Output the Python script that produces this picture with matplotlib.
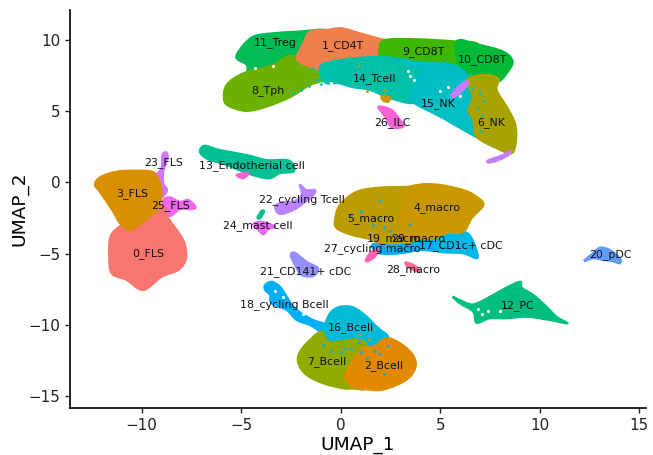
#!/usr/bin/env python3
import matplotlib
matplotlib.use('Agg')
import matplotlib.pyplot as plt
from matplotlib.patches import PathPatch
from matplotlib.path import Path

# cluster outlines in UMAP coordinates
c0_fls = [(-11.59, -3.92), (-11.3, -3.3), (-10.6, -2.6), (-9.6, -1.6), (-8.9, -1.7), (-8.66, -2.51),
          (-7.91, -4.04), (-7.77, -5.32), (-8.16, -6.14), (-9.0, -6.61), (-9.92, -7.54), (-10.75, -6.84),
          (-11.51, -6.37), (-11.63, -5.21)]
c1_cd4t = [(-1.54, 10.58), (-0.70, 10.70), (0.05, 10.82), (0.97, 10.47), (2.31, 9.98), (3.2, 9.9), (3.2, 9.0), (2.31, 8.60),
           (1.47, 8.40), (0.63, 8.28), (-0.37, 7.93), (-0.70, 7.81), (-1.38, 8.05), (-2.18, 8.63), (-1.88, 9.77)]
c2_bcell = [(2.31, -10.93), (2.98, -11.28), (3.57, -11.99), (3.78, -12.81), (3.48, -13.63), (2.81, -14.21),
            (1.97, -14.56), (1.14, -14.48), (0.6, -14.3), (0.22, -13.74), (0.47, -12.81), (1.14, -11.64),
            (1.64, -11.52)]
c3_fls = [(-12.35, -0.18), (-12.1, 0.36), (-11.26, 0.76), (-10.25, 0.83), (-9.42, 0.72), (-9.08, -0.06), (-9.0, -1.0),
          (-9.25, -1.93), (-9.92, -2.75), (-10.59, -3.33), (-11.09, -2.86), (-11.43, -2.05), (-12.1, -0.65)]
c4_macro = [(3.3, -0.45), (4.65, -0.13), (6.16, -0.53), (6.83, -1.0), (7.17, -1.58), (6.58, -2.51), (6.16, -3.45),
            (5.33, -3.56), (4.65, -3.92), (3.32, -3.92), (2.98, -2.98), (3.07, -2.05)]
c5_macro = [(-0.29, -2.63), (-0.04, -1.58), (0.80, -0.65), (1.97, -0.36), (3.4, -0.3), (4.6, -0.22), (4.6, -2.0), (4.0, -3.9),
            (2.31, -4.27), (1.31, -3.92), (0.47, -3.64), (-0.20, -3.21)]
c6_nk = [(6.33, 7.19), (7.17, 7.54), (7.92, 7.31), (7.84, 6.49), (8.34, 5.32), (8.76, 4.15), (8.81, 2.98), (8.59, 2.05),
         (7.84, 2.40), (6.83, 3.21), (6.66, 4.39), (6.41, 5.09), (6.66, 6.02)]
c7_bcell = [(-0.95, -10.47), (-0.54, -11.2), (0.80, -11.0), (1.34, -11.5), (1.2, -12.81), (1.3, -14.4),
            (0.6, -14.45), (0.13, -14.44), (-0.87, -14.09), (-1.71, -13.51), (-2.13, -12.69), (-2.05, -11.87),
            (-1.46, -10.93)]
c8_tph = [(-5.86, 5.79), (-5.73, 6.84), (-4.89, 7.66), (-3.39, 8.25), (-2.71, 8.83), (-2.18, 8.83), (-1.38, 8.25),
          (-0.50, 8.13), (-0.59, 7.31), (-1.54, 6.84), (-2.55, 5.98), (-3.72, 5.32), (-4.72, 5.02), (-5.56, 5.32)]
c9_cd8t = [(2.2, 9.98), (3.82, 10.05), (5.83, 9.89), (6.9, 9.7), (6.9, 8.5), (6.1, 7.6), (5.16, 7.9), (3.48, 8.0),
           (2.1, 8.40), (1.95, 9.18)]
c10_cd8t = [(5.83, 9.89), (6.83, 9.70), (8.17, 9.18), (8.64, 8.48), (8.34, 7.66), (7.92, 7.1), (7.17, 7.3),
            (6.33, 6.95), (5.91, 6.6), (5.91, 7.89)]
c11_treg = [(-5.23, 8.95), (-4.81, 9.77), (-4.31, 10.28), (-3.39, 10.47), (-2.21, 10.58), (-0.6, 10.65), (-0.6, 9.5),
            (-1.9, 8.6), (-2.71, 8.5), (-3.39, 7.9), (-4.56, 7.4), (-4.72, 8.25), (-5.15, 8.6)]
c12_pc = [(5.63, -8.01), (5.99, -8.25), (6.66, -8.55), (7.50, -8.01), (8.26, -7.42), (9.01, -6.96), (9.10, -7.38),
          (9.68, -7.89), (10.35, -8.72), (10.85, -9.42), (11.39, -9.88), (10.52, -9.65), (9.35, -9.42), (8.34, -9.53),
          (7.50, -9.53), (6.83, -9.84), (6.66, -9.07), (5.99, -8.48)]
c13_endo = [(-7.07, 2.28), (-6.82, 2.58), (-6.07, 2.28), (-4.72, 1.93), (-3.72, 1.58), (-2.71, 1.58), (-2.38, 1.23),
            (-2.38, 0.76), (-3.05, 0.65), (-3.64, 0.29), (-4.72, 0.65), (-5.73, 1.23), (-6.57, 1.58), (-6.98, 1.93)]
c14_tcell = [(-1.0, 7.43), (-0.9, 8.3), (0.63, 8.7), (2.31, 8.8), (3.7, 8.45), (4.4, 7.89), (4.1, 6.72),
             (3.7, 5.6), (2.48, 5.91), (1.47, 6.49), (0.63, 6.68), (-0.12, 6.96), (-0.70, 6.96)]
c15_nk = [(3.2, 8.45), (5.16, 8.33), (5.91, 8.09), (6.53, 7.19), (6.86, 6.02), (6.61, 5.09), (6.86, 4.39), (6.95, 3.21),
          (6.33, 3.56), (5.16, 4.50), (3.48, 5.79), (3.62, 6.72), (3.95, 7.89)]
c16_bcell = [(-0.87, -10.23), (-0.54, -9.18), (-0.04, -8.72), (0.63, -8.76), (1.31, -9.42), (1.81, -10.12),
             (2.4, -10.93), (1.64, -11.7), (0.80, -11.37), (-0.54, -11.7), (-1.04, -10.58)]
c17_cd1c = [(5.33, -3.56), (6.16, -3.45), (6.58, -3.92), (6.88, -5.28), (6.16, -4.97), (5.16, -4.90), (4.82, -4.74),
            (4.99, -4.04)]
c18_cycling = [(-3.80, -7.19), (-3.47, -6.96), (-3.05, -7.31), (-2.71, -8.01), (-2.38, -8.72), (-1.96, -9.18),
               (-1.38, -9.65), (-0.70, -10.0), (-0.95, -10.47), (-1.54, -10.0), (-2.21, -9.65), (-2.71, -8.95),
               (-3.47, -8.48), (-3.55, -7.89), (-3.80, -7.54)]
c19_macro = [(1.56, -4.39), (2.31, -4.17), (3.32, -3.82), (4.65, -3.82), (5.1, -3.9), (4.82, -4.74), (3.98, -4.74),
             (2.98, -4.97), (1.97, -4.97)]
c20_pdc = [(12.23, -5.51), (12.61, -5.04), (13.03, -4.57), (13.53, -4.74), (14.03, -5.32), (14.03, -5.67),
           (13.62, -5.51), (13.2, -5.44), (12.69, -5.32)]
c21_cd141 = [(-2.51, -5.09), (-2.30, -4.93), (-1.71, -5.56), (-1.13, -6.02), (-1.38, -6.56), (-1.96, -6.49),
             (-2.30, -5.79)]
c22_cycling = [(-3.30, -1.70), (-2.96, -1.39), (-2.38, -1.35), (-1.96, -0.88), (-2.05, -0.18), (-1.71, -0.53),
               (-1.29, -0.53), (-1.38, -0.88), (-1.88, -1.46), (-2.38, -1.93), (-3.05, -2.21)]
c22_streak_a = [(7.4, 1.55), (8.1, 1.9), (8.5, 2.2), (8.45, 1.95), (7.9, 1.55), (7.45, 1.4)]
c22_streak_b = [(5.55, 6.1), (5.9, 6.7), (6.3, 7.1), (6.4, 6.9), (6.0, 6.3), (5.7, 6.0)]
c23_fls = [(-8.96, 1.93), (-8.78, 2.12), (-8.69, 1.81), (-8.91, 0.76), (-8.91, -0.06), (-8.72, -0.53), (-9.0, -1.0),
           (-9.1, -0.06), (-9.33, 0.41), (-9.0, 1.0)]
c24_mast = [(-4.39, -2.91), (-3.97, -2.75), (-3.30, -3.10), (-3.64, -3.28), (-3.89, -3.64), (-4.22, -3.21)]
c24_endo = [(-5.23, 0.53), (-4.64, 0.65), (-4.89, 0.29)]
c25_fls = [(-8.91, -1.23), (-8.58, -1.04), (-8.08, -1.35), (-7.66, -1.23), (-7.29, -1.70), (-7.49, -1.88), (-8.08, -1.88),
           (-8.58, -2.35), (-8.91, -1.81)]
c26_ilc = [(1.89, 5.32), (2.56, 5.09), (2.98, 4.39), (3.15, 3.92), (2.56, 3.87), (2.23, 4.62)]
c27_macro = [(1.26, -5.44), (1.56, -4.81), (1.89, -4.74), (1.72, -5.21), (1.39, -5.51)]
c28_macro = [(3.28, -5.60), (3.73, -5.84), (3.95, -6.26), (3.65, -6.14), (3.32, -5.84)]
c4_spot = [(2.06, 6.07), (2.48, 5.98), (2.39, 5.67), (2.14, 5.74)]
c12_mast = [(-3.97, -1.98), (-3.85, -2.05), (-4.05, -2.51), (-4.18, -2.45)]

# stray cells of one cluster inside another: (x, y)
specks_blue = [(2.0, -1.3), (1.0, -2.0), (0.5, -2.3), (1.9, -2.5), (2.2, -3.1), (2.5, -3.4), (1.6, -3.0), (3.5, -2.9),
               (0.9, -11.2), (0.2, -11.6), (-0.5, -11.8), (2.0, -12.0), (2.7, -12.8), (2.2, -13.4), (1.3, -12.3),
               (0.0, -11.9), (-0.9, -11.4), (0.5, -11.7), (1.0, -11.9), (1.7, -11.8), (2.4, -11.5)]
specks_teal = [(-1.2, 7.2), (-1.6, 6.8), (-2.0, 6.5), (-0.4, 7.6), (-1.4, 8.0), (3.2, 8.6), (4.4, 8.4), (5.2, 8.5),
               (6.6, 6.6), (7.0, 6.3), (6.9, 5.2), (7.1, 4.7), (6.5, 7.6), (-1.0, 6.9), (-2.4, 6.3), (-0.9, 8.4),
               (0.2, 8.6), (1.2, 8.8), (7.2, 5.7), (7.0, 3.6)]
specks_orange = [(0.9, -10.6), (1.5, -10.3), (0.4, -11.9), (0.9, -12.4), (0.7, -13.0), (1.7, 7.2), (2.2, 6.5), (1.3, 6.4),
                 (-0.6, 8.9), (0.9, 8.2), (1.4, -11.0), (0.6, -12.0), (1.1, -12.9)]
specks_white = [(3.5, 7.5), (3.7, 7.2), (3.4, 7.8), (5.4, 6.7), (5.0, 6.4), (6.0, 6.1), (-0.5, 7.0), (-4.3, 8.0), (-3.4, 8.2),
                (8.0, -9.0), (7.1, -9.2), (6.9, -8.9), (7.4, -9.0), (-3.3, -7.6), (-2.9, -8.0), (-1.9, -9.2)]

# labels: text and centre position
label_text = ['0_FLS', '1_CD4T', '2_Bcell', '3_FLS', '4_macro', '5_macro', '6_NK', '7_Bcell', '8_Tph', '9_CD8T',
              '10_CD8T', '11_Treg', '12_PC', '13_Endotherial cell', '14_Tcell', '15_NK', '16_Bcell', '17_CD1c+ cDC',
              '18_cycling Bcell', '19_macro', '20_pDC', '21_CD141+ cDC', '22_cycling Tcell', '23_FLS',
              '24_mast cell', '25_FLS', '26_ILC', '27_cycling macro', '28_macro', '29_macro']
label_x = [-9.66, 0.13, 2.18, -10.5, 4.86, 1.51, 7.54, -0.70, -3.64, 4.15,
           7.12, -3.27, 8.88, -4.47, 1.72, 4.90, 0.52, 6.05,
           -2.83, 2.69, 13.53, -1.74, -1.94, -8.91,
           -4.14, -8.54, 2.61, 1.61, 3.65, 3.92]
label_y = [-4.95, 9.6, -12.81, -0.76, -1.74, -2.56, 4.22, -12.53, 6.42, 9.18,
           8.64, 9.84, -8.60, 1.16, 7.26, 5.53, -10.19, -4.43,
           -8.53, -3.92, -5.09, -6.26, -1.18, 1.42,
           -3.05, -1.63, 4.22, -4.62, -6.12, -3.9]

x_ticks = [-10, -5, 0, 5, 10, 15]
y_ticks = [-15, -10, -5, 0, 5, 10]

# draw order: what is listed later sits on top
layers = [
    (c11_treg, '#00BC56'), (c8_tph, '#6BB100'), (c1_cd4t, '#F07F4E'), (c9_cd8t, '#3DB700'), (c10_cd8t, '#00BA38'),
    (c14_tcell, '#00C1A7'), (c15_nk, '#00BFC4'), (c6_nk, '#A8A200'), (c4_spot, '#CD9600'), (c26_ilc, '#F763D6'),
    (c22_streak_a, '#C77CFF'), (c22_streak_b, '#C77CFF'),
    (c13_endo, '#00C094'), (c24_endo, '#F763D6'),
    (c23_fls, '#CF78FF'), (c25_fls, '#EF67EB'), (c0_fls, '#F8766D'), (c3_fls, '#D89000'),
    (c22_cycling, '#B983FF'), (c24_mast, '#E76BF3'), (c12_mast, '#00C08B'), (c21_cd141, '#9590FF'),
    (c19_macro, '#00B0F6'), (c17_cd1c, '#00B8E7'), (c5_macro, '#BB9D00'), (c4_macro, '#C99800'),
    (c27_macro, '#FF65AE'), (c28_macro, '#FF6A98'),
    (c18_cycling, '#00B0F6'), (c16_bcell, '#00BAD8'), (c7_bcell, '#8FAA00'), (c2_bcell, '#E38900'),
    (c12_pc, '#00BF7D'), (c20_pdc, '#619CFF'),
]


def smooth_outline(outline):
    # closed curve through the outline points (Catmull-Rom written as Bezier pieces)
    n = len(outline)
    verts = [outline[0]]
    codes = [Path.MOVETO]
    for i in range(n):
        p0, p1 = outline[i - 1], outline[i]
        p2, p3 = outline[(i + 1) % n], outline[(i + 2) % n]
        verts.append((p1[0] + (p2[0] - p0[0]) / 6, p1[1] + (p2[1] - p0[1]) / 6))
        verts.append((p2[0] - (p3[0] - p1[0]) / 6, p2[1] - (p3[1] - p1[1]) / 6))
        verts.append(p2)
        codes += [Path.CURVE4, Path.CURVE4, Path.CURVE4]
    return Path(verts, codes)


def draw_layer(ax, outline, color):
    ax.add_patch(PathPatch(smooth_outline(outline), facecolor=color, edgecolor=color, linewidth=1.5, zorder=2))


def draw_specks(ax, points, color, size=4):
    ax.scatter([p[0] for p in points], [p[1] for p in points], s=size, color=color, linewidths=0, zorder=3)


def main():
    fig = plt.figure(figsize=(6.53, 4.55), dpi=100)
    ax = fig.add_axes([70 / 653, 1 - 408 / 455, 576 / 653, 398 / 455])

    for outline, color in layers:
        draw_layer(ax, outline, color)
    draw_specks(ax, specks_blue, '#00B0F6')
    draw_specks(ax, specks_teal, '#00BFC4')
    draw_specks(ax, specks_orange, '#CD9600')
    draw_specks(ax, specks_white, 'white', 5)

    for text, x, y in zip(label_text, label_x, label_y):
        ax.text(x, y, text, fontsize=7.9, ha='center', va='center', color='#111111', zorder=5)

    ax.set_xlim(-13.6, 15.34)
    ax.set_ylim(-15.82, 12.1)
    ax.set_xticks(x_ticks)
    ax.set_yticks(y_ticks)
    ax.tick_params(labelsize=10.9, length=3.5, width=1, color='#222222', labelcolor='#222222')
    ax.set_xlabel('UMAP_1', fontsize=13.3, labelpad=2)
    ax.set_ylabel('UMAP_2', fontsize=13.3, labelpad=0)
    ax.spines['top'].set_visible(False)
    ax.spines['right'].set_visible(False)
    ax.spines['left'].set_linewidth(1.2)
    ax.spines['bottom'].set_linewidth(1.2)

    plt.savefig('out.png', dpi=100)


if __name__ == '__main__':
    main()
